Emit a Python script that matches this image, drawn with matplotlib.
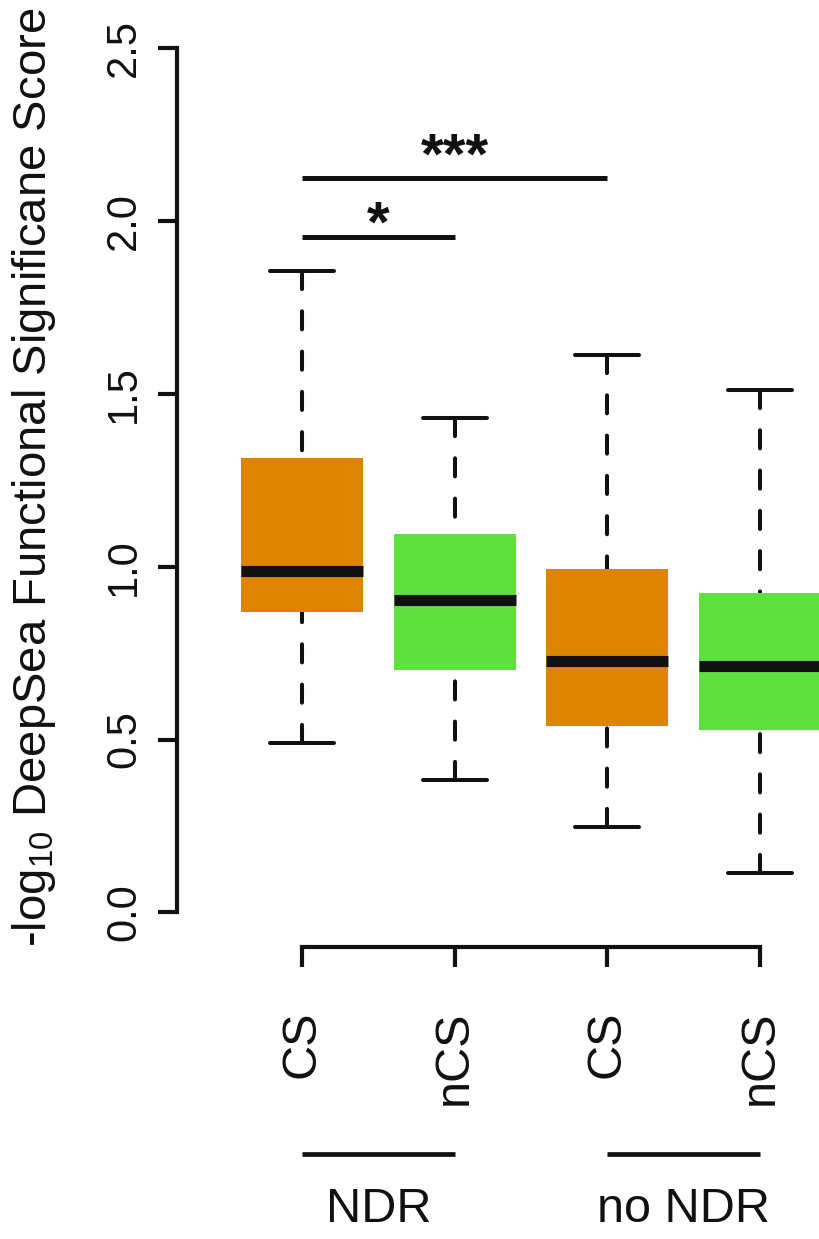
import matplotlib
matplotlib.use('Agg')
import matplotlib.pyplot as plt

plt.rcParams['font.family'] = ['Liberation Sans', 'DejaVu Sans']
plt.rcParams['mathtext.fontset'] = 'custom'
plt.rcParams['mathtext.rm'] = 'Liberation Sans'
plt.rcParams['mathtext.it'] = 'Liberation Sans'
plt.rcParams['mathtext.default'] = 'rm'

# box statistics
groups = ['CS', 'nCS', 'CS', 'nCS']
whislo = [0.49, 0.384, 0.248, 0.113]
q1 = [0.868, 0.700, 0.538, 0.528]
med = [0.988, 0.904, 0.726, 0.714]
q3 = [1.313, 1.094, 0.994, 0.924]
whishi = [1.855, 1.430, 1.611, 1.510]
colors = ['#DD8500', '#5EE03F', '#DD8500', '#5EE03F']

# significance brackets: (from, to, height, label)
sig_from = [1, 1]
sig_to = [2, 3]
sig_y = [1.954, 2.123]
sig_label = ['*', '***']
sig_text_y = [1.94, 2.138]

region_names = ['NDR', 'no NDR']
region_from = [1, 3]
region_to = [2, 4]

fig = plt.figure(figsize=(8.19, 12.39), dpi=100)
ax = fig.add_axes([177/819, (1239-947)/1239, (819-177)/819, (947-48)/1239])

stats = []
for i in range(len(groups)):
    stats.append(dict(med=med[i], q1=q1[i], q3=q3[i], whislo=whislo[i],
                      whishi=whishi[i], fliers=[]))

lw = 2.9
bp = ax.bxp(stats, positions=[1, 2, 3, 4], widths=0.8, patch_artist=True,
            showfliers=False, capwidths=0.42,
            boxprops=dict(linewidth=0, edgecolor='none'),
            medianprops=dict(color='#111111', linewidth=8, solid_capstyle='butt'),
            whiskerprops=dict(color='#111111', linewidth=lw, linestyle=(0, (4.5, 5.5)),
                              dash_capstyle='round'),
            capprops=dict(color='#111111', linewidth=lw, solid_capstyle='round'))
for patch, c in zip(bp['boxes'], colors):
    patch.set_facecolor(c)
# dashes start at the whisker end, as R draws them
for w in bp['whiskers']:
    w.set_ydata(w.get_ydata()[::-1])
    w.set_zorder(1)

ax.set_xlim(1 - 125/152.67, 1 + 517/152.67)
ax.set_ylim(-0.1, 2.5)

for s in ['top', 'right']:
    ax.spines[s].set_visible(False)
ax.spines['left'].set_bounds(0, 2.5)
ax.spines['bottom'].set_bounds(1, 4)
for s in ['left', 'bottom']:
    ax.spines[s].set_linewidth(3)
    ax.spines[s].set_color('#111111')

ax.set_yticks([0, 0.5, 1.0, 1.5, 2.0, 2.5])
ax.set_yticklabels(['0.0', '0.5', '1.0', '1.5', '2.0', '2.5'])
ax.tick_params(axis='y', length=13.7, width=3, color='#111111', labelsize=30, pad=10,
               labelcolor='#111111')
for lab in ax.get_yticklabels():
    lab.set_rotation(90)
    lab.set_va('center')

ax.set_xticks([1, 2, 3, 4])
ax.set_xticklabels(groups, rotation=90, va='top', ha='center')
ax.tick_params(axis='x', length=14.4, width=3, color='#111111', labelsize=35, pad=31,
               labelcolor='#111111')

ax.set_ylabel('-log$_{10}$ DeepSea Functional Significane Score', fontsize=34,
              color='#111111')
ax.yaxis.set_label_coords((58 - 177) / 642, 0.522)

for a, b, y, ty, t in zip(sig_from, sig_to, sig_y, sig_text_y, sig_label):
    ax.plot([a, b], [y, y], color='#111111', linewidth=3.6, solid_capstyle='butt')
    ax.text((a + b) / 2, ty, t, ha='center', va='baseline', fontsize=42,
            fontweight='bold', color='#111111')

for a, b, name in zip(region_from, region_to, region_names):
    ax.plot([a, b], [-0.699, -0.699], color='#111111', linewidth=3.4,
            solid_capstyle='butt', clip_on=False)
    ax.text((a + b) / 2, -0.896, name, ha='center', va='baseline', fontsize=35,
            color='#111111', clip_on=False)

fig.savefig('out.png', dpi=100)
